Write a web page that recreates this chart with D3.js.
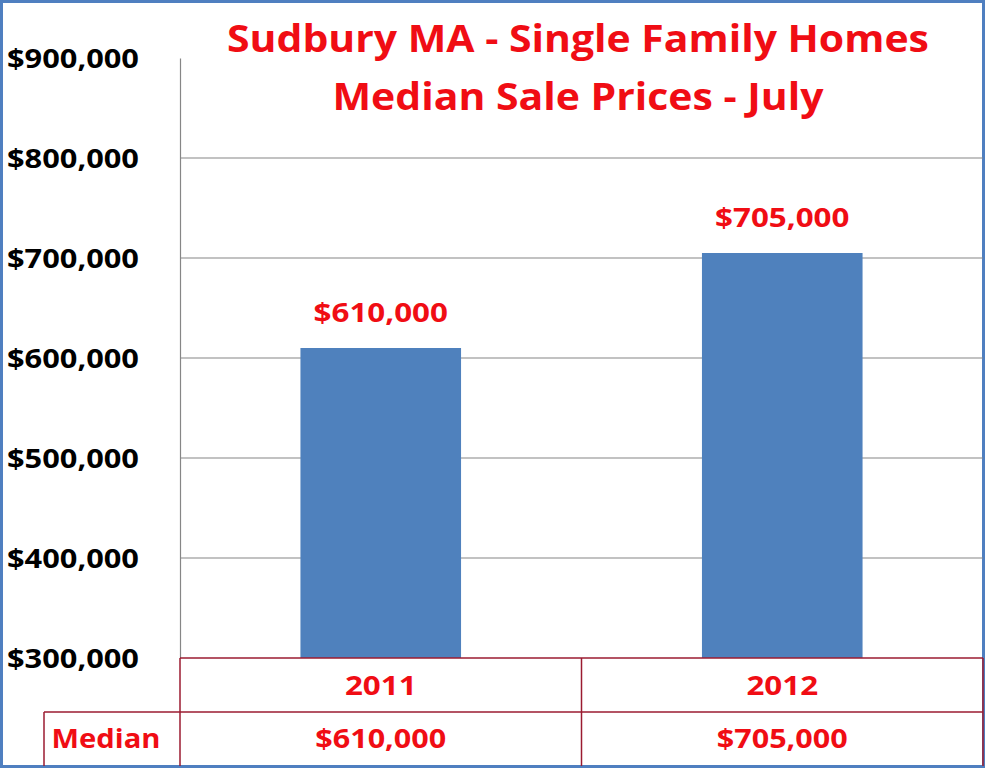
<!DOCTYPE html>
<html><head><meta charset="utf-8">
<script src="https://cdn.jsdelivr.net/npm/d3@7"></script>
<style>html,body{margin:0;padding:0;background:#fff;}svg{display:block;}</style>
</head><body>
<script>
const categories = ["2011", "2012"];
const values = [610000, 705000];
const valueLabels = ["$610,000", "$705,000"];
const yTicks = [300000, 400000, 500000, 600000, 700000, 800000, 900000];
const titleLines = ["Sudbury MA - Single Family Homes", "Median Sale Prices - July"];
const rowLabel = "Median";

(function () {
const W = 985, H = 768;
const FONT = "'Open Sans', Lato, sans-serif";
const RED = "#f00d14", TABLE = "#9b1b30", BAR = "#4f81bd", GRID = "#868686";

function stretch(sel, k) {
  sel.each(function () {
    const w = this.getComputedTextLength();
    d3.select(this).attr("textLength", w * k).attr("lengthAdjust", "spacingAndGlyphs");
  });
}

const svg = d3.select("body").append("svg").attr("width", W).attr("height", H);
svg.append("rect").attr("x", 1.5).attr("y", 1.5).attr("width", W - 3).attr("height", H - 3)
  .attr("fill", "#fff").attr("stroke", "#4f7fc0").attr("stroke-width", 3);

const pL = 180, pR = 983, pT = 58, pB = 658;
const x = d3.scaleBand().domain(categories).range([pL, pR]).padding(0);
const y = d3.scaleLinear().domain([300000, 900000]).range([pB, pT]);

svg.append("g").selectAll("line").data(yTicks.filter(t => t > 300000 && t < 900000)).join("line")
  .attr("x1", pL).attr("x2", pR).attr("y1", d => y(d)).attr("y2", d => y(d))
  .attr("stroke", GRID).attr("stroke-width", 1.2);

const yAxis = d3.axisLeft(y).tickValues(yTicks).tickSize(0).tickPadding(0)
  .tickFormat(d => "$" + d3.format(",")(d));
const gy = svg.append("g").attr("transform", `translate(${pL},0)`).call(yAxis);
gy.select(".domain").attr("stroke", GRID).attr("stroke-width", 1.2);
gy.selectAll("text").attr("x", -173).attr("text-anchor", "start").attr("dy", "0.36em")
  .attr("font-family", FONT).attr("font-weight", "bold").attr("font-size", 27).attr("fill", "#000");
stretch(gy.selectAll("text"), 1.14);

const bw = x.bandwidth() * 0.4;
svg.append("g").selectAll("rect").data(values).join("rect")
  .attr("x", (d, i) => x(categories[i]) + x.bandwidth() / 2 - bw / 2)
  .attr("width", bw)
  .attr("y", d => y(d)).attr("height", d => y(300000) - y(d))
  .attr("fill", BAR);

const dl = svg.append("g").selectAll("text").data(values).join("text")
  .attr("x", (d, i) => x(categories[i]) + x.bandwidth() / 2)
  .attr("y", d => y(d) - 26)
  .attr("text-anchor", "middle").attr("font-family", FONT).attr("font-weight", "bold")
  .attr("font-size", 27).attr("fill", RED).text((d, i) => valueLabels[i]);
stretch(dl, 1.16);

const tl1 = svg.append("g").selectAll("text").data(titleLines).join("text")
  .attr("x", 578).attr("y", (d, i) => 52 + i * 58)
  .attr("text-anchor", "middle").attr("font-family", FONT).attr("font-weight", "bold")
  .attr("font-size", 38).attr("fill", RED).text(d => d);
stretch(tl1, 1.077);

const r1 = 658, r2 = 712, r3 = 766, tl = 44;
const tg = svg.append("g").attr("stroke", TABLE).attr("stroke-width", 1.5);
tg.append("line").attr("x1", pL).attr("x2", pR).attr("y1", r1).attr("y2", r1);
tg.append("line").attr("x1", tl).attr("x2", pR).attr("y1", r2).attr("y2", r2);
tg.append("line").attr("x1", tl).attr("x2", tl).attr("y1", r2).attr("y2", r3);
tg.append("line").attr("x1", pL).attr("x2", pL).attr("y1", r1).attr("y2", r3);
categories.forEach(c => {
  tg.append("line").attr("x1", x(c) + x.bandwidth()).attr("x2", x(c) + x.bandwidth())
    .attr("y1", r1).attr("y2", r3);
});
const tt = svg.append("g").attr("font-family", FONT).attr("font-weight", "bold")
  .attr("font-size", 27).attr("fill", RED).attr("text-anchor", "middle");
categories.forEach((c, i) => {
  tt.append("text").attr("class", "yr").attr("x", x(c) + x.bandwidth() / 2).attr("y", 695).text(c);
  tt.append("text").attr("class", "val").attr("x", x(c) + x.bandwidth() / 2).attr("y", 748).text(valueLabels[i]);
});
tt.append("text").attr("class", "lab").attr("x", 106).attr("y", 748).text(rowLabel);
stretch(tt.selectAll(".yr"), 1.16);
stretch(tt.selectAll(".val"), 1.13);
stretch(tt.selectAll(".lab"), 1.08);
})();
</script>
</body></html>
